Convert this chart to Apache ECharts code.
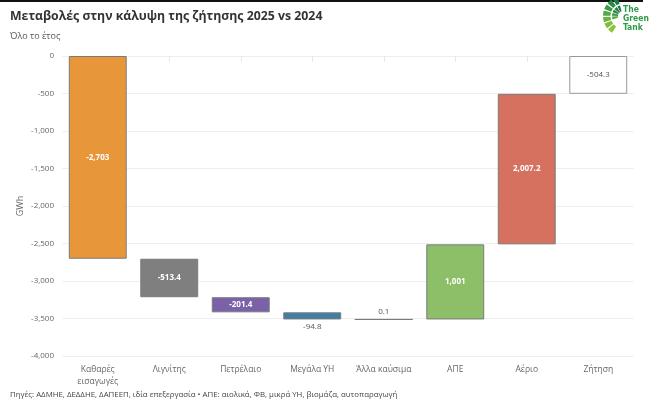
<!DOCTYPE html>
<html><head><meta charset="utf-8">
<script src="https://cdn.jsdelivr.net/npm/echarts@6/dist/echarts.min.js"></script>
<style>html,body{margin:0;padding:0;background:#fff}#c{width:660px;height:408px}</style>
</head><body><div id="c"></div>
<script>
const categories = ['Καθαρές\nεισαγωγές','Λιγνίτης','Πετρέλαιο','Μεγάλα ΥΗ','Άλλα καύσιμα','ΑΠΕ','Αέριο','Ζήτηση'];
const changes = [-2703, -513.4, -201.4, -94.8, 0.1, 1001, 2007.2];
const totalValue = -504.3;
const colors = ['#E8963A','#7F7F7F','#7B62A8','#3F7FA3','#7F7F7F','#8CBF68','#D6705F','#FFFFFF'];
const yTicks = {min:-4000, max:0, interval:500};

// waterfall geometry via stacking
const base = [], height = [], labels = [];
let cum = 0;
changes.forEach(v => {
  const start = cum, end = cum + v;
  const top = Math.max(start, end);
  base.push(top);
  height.push(-Math.abs(v));
  labels.push(v);
  cum = end;
});
base.push(0); height.push(totalValue); labels.push(totalValue);

const fmt = v => v.toLocaleString('en-US', {maximumFractionDigits: 1});
const labelPos = ['inside','inside','inside','bottom','top','inside','inside','inside'];

const deltaData = height.map((h, i) => {
  const inside = labelPos[i] === 'inside';
  const white = inside && i !== 7;
  return {
    value: h,
    itemStyle: {color: colors[i], borderColor: i===7 ? '#999' : '#7a7a7a', borderWidth: 1},
    label: {
      show: true,
      position: labelPos[i],
      distance: 3,
      formatter: () => fmt(labels[i]),
      color: white ? '#fff' : '#555',
      fontWeight: white ? 'bold' : 'normal',
      fontSize: 8,
      textBorderColor: white ? colors[i] : 'transparent',
      textBorderWidth: white ? 2 : 0
    }
  };
});

// logo pieces (decorative)
const logo = [];
const cx = 623, cy = 16;
const shades = ['#8CC63F','#7DBE3C','#6CB33F','#55A843','#3E9A45','#2A8A45','#1E7A45'];
const n = 7, a0 = 2.15, a1 = 4.5, step = (a1 - a0) / n;
for (let k = 0; k < n; k++) {
  const s = a0 + k * step, e = s + step * 0.8;
  logo.push({type:'sector', shape:{cx, cy, r0:12.5, r:20, startAngle:s, endAngle:e}, style:{fill: shades[k]}});
  if (k >= 2) logo.push({type:'sector', shape:{cx, cy, r0:5, r:11, startAngle:s, endAngle:e}, style:{fill: shades[Math.min(k+1,n-1)]}});
}
const lf = 'bold 8.5px "Liberation Sans Narrow", "DejaVu Sans Condensed", sans-serif';
logo.push({type:'text', style:{x:623, y:5, text:'The', fill:'#2E9A48', font:lf}});
logo.push({type:'text', style:{x:623, y:14, text:'Green', fill:'#2E9A48', font:lf}});
logo.push({type:'text', style:{x:623, y:23, text:'Tank', fill:'#2E9A48', font:lf}});

const chart = echarts.init(document.getElementById('c'));
chart.setOption({
  animation: false,
  textStyle: {fontFamily: 'Open Sans'},
  grid: {left: 62, right: 26, top: 56, bottom: 52},
  title: [
    {text: 'Μεταβολές στην κάλυψη της ζήτησης 2025 vs 2024', left: 10, top: 10, padding: 0,
     textStyle: {fontSize: 12.3, fontWeight: 'bold', color: '#333', fontFamily: 'Open Sans'}},
    {text: 'Όλο το έτος', left: 10, top: 32, padding: 0,
     textStyle: {fontSize: 9, fontWeight: 'normal', color: '#555', fontFamily: 'Open Sans'}},
    {text: 'Πηγές: ΑΔΜΗΕ, ΔΕΔΔΗΕ, ΔΑΠΕΕΠ, ιδία επεξεργασία • ΑΠΕ: αιολικά, ΦΒ, μικρά ΥΗ, βιομάζα, αυτοπαραγωγή',
     left: 10, top: 391, padding: 0, textStyle: {fontSize: 7.85, fontWeight: 'normal', color: '#444', fontFamily: 'Open Sans'}}
  ],
  xAxis: {
    type: 'category', data: categories,
    axisLine: {show: false},
    axisTick: {show: true, alignWithLabel: true, length: 6, lineStyle: {color: '#e6e6e6'}},
    axisLabel: {color: '#666', fontSize: 8.5, margin: 8, lineHeight: 12, interval: 0}
  },
  yAxis: {
    type: 'value', min: yTicks.min, max: yTicks.max, interval: yTicks.interval,
    name: 'GWh', nameLocation: 'middle', nameGap: 37, nameRotate: 90, nameMoveOverlap: false,
    nameTextStyle: {color: '#666', fontSize: 9},
    axisLine: {show: false}, axisTick: {show: false},
    axisLabel: {color: '#666', fontSize: 8, margin: 8, formatter: v => v.toLocaleString('en-US')},
    splitLine: {lineStyle: {color: '#efefef'}}
  },
  series: [
    {type: 'bar', stack: 'w', data: base, itemStyle: {color: 'transparent'}, barWidth: '81%', silent: true},
    {type: 'bar', stack: 'w', data: deltaData, barWidth: '81%'}
  ],
  graphic: [
    {type: 'rect', shape: {x: 0, y: 0, width: 643, height: 2}, style: {fill: '#111'}}
  ].concat(logo)
});
</script></body></html>
